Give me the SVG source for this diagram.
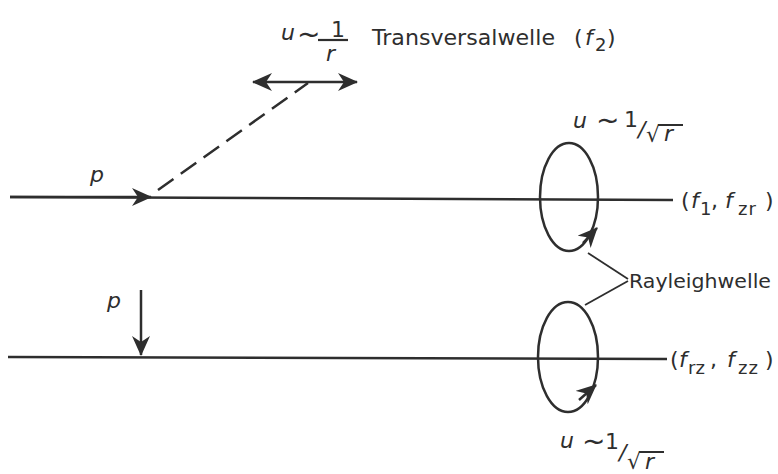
<svg xmlns="http://www.w3.org/2000/svg" width="778" height="474" viewBox="0 0 778 474">
<defs>
<style>
.ln{stroke:#2e2e2e;stroke-width:2.5;fill:none}
.thin{stroke:#2e2e2e;stroke-width:1.8;fill:none}
.t{font-family:"DejaVu Sans","Liberation Sans",sans-serif;fill:#2e2e2e;font-size:22px}
.i{font-style:italic}
.s{font-size:18px}
.r{font-size:20px}
</style>
<marker id="ahb" markerWidth="20" markerHeight="18" refX="19" refY="9" orient="auto" markerUnits="userSpaceOnUse" viewBox="0 0 20 18">
<path d="M0,0 L20,9 L0,18 L6,9 Z" fill="#2e2e2e"/>
</marker>
<marker id="ahs" markerWidth="20" markerHeight="18" refX="19" refY="9" orient="auto-start-reverse" markerUnits="userSpaceOnUse" viewBox="0 0 20 18">
<path d="M0,0 L20,9 L0,18 L6,9 Z" fill="#2e2e2e"/>
</marker>
</defs>
<rect width="778" height="474" fill="#fff"/>
<g id="connectors">
<line class="ln" x1="10" y1="197" x2="673" y2="200"/>
<line class="ln" x1="10" y1="197" x2="151" y2="197" marker-end="url(#ahb)"/>
<line class="ln" x1="158" y1="190" x2="308" y2="83" stroke-dasharray="19,9"/>
<line class="ln" x1="253" y1="82" x2="357" y2="82" marker-start="url(#ahs)" marker-end="url(#ahs)"/>
<line class="ln" x1="8" y1="357" x2="667" y2="359"/>
<line class="ln" x1="141" y1="290" x2="141" y2="355" marker-end="url(#ahb)"/>
<line class="thin" x1="588" y1="253" x2="628" y2="279"/>
<line class="thin" x1="585" y1="305" x2="628" y2="281"/>
</g>
<g id="top-ellipse">
<ellipse class="ln" cx="569" cy="197" rx="29" ry="54"/>
<path class="ln" d="M583,243 L597,228" marker-end="url(#ahb)"/>
</g>
<g id="bottom-ellipse">
<ellipse class="ln" cx="568" cy="357" rx="30" ry="55"/>
<path class="ln" d="M579,400 L596,385" marker-end="url(#ahb)"/>
</g>
<g id="labels">
<text class="t i" x="90" y="182">p</text>
<text class="t i" x="107" y="308">p</text>
<text class="t" y="40"><tspan class="i" x="281">u</tspan><tspan x="297" font-size="28" dy="4">~</tspan><tspan x="331" dy="-7">1</tspan><tspan class="i" x="326" dy="24">r</tspan></text>
<line x1="318" y1="40" x2="348" y2="40" stroke="#2e2e2e" stroke-width="2.2"/>
<text class="t" x="372" y="45" textLength="183" lengthAdjust="spacingAndGlyphs">Transversalwelle</text>
<text class="t" y="45"><tspan x="574">(</tspan><tspan class="i" x="585">f</tspan><tspan class="s" x="595" dy="6">2</tspan><tspan x="607" dy="-6">)</tspan></text>
<text class="t" y="128"><tspan class="i" x="573">u</tspan><tspan x="596" font-size="28" dy="2">~</tspan><tspan x="624" dy="-3">1</tspan><tspan class="i" x="638" dy="10">/</tspan><tspan x="646" dy="5">√</tspan><tspan class="i" x="664" dy="-1">r</tspan></text>
<line x1="658" y1="125" x2="683" y2="125" stroke="#2e2e2e" stroke-width="2"/>
<text class="t" y="208"><tspan x="681">(</tspan><tspan class="i" x="691">f</tspan><tspan class="s" x="700" dy="7">1</tspan><tspan x="711" dy="-7">,</tspan><tspan class="i" x="725">f</tspan><tspan class="s" x="738" dy="7" letter-spacing="1">zr</tspan><tspan x="765" dy="-7">)</tspan></text>
<text class="t r" x="629" y="288" textLength="142" lengthAdjust="spacingAndGlyphs">Rayleighwelle</text>
<text class="t" y="367"><tspan x="670">(</tspan><tspan class="i" x="679">f</tspan><tspan class="s" x="688" dy="7">rz</tspan><tspan x="710" dy="-7">,</tspan><tspan class="i" x="727">f</tspan><tspan class="s" x="738" dy="7" letter-spacing="1">zz</tspan><tspan x="765" dy="-7">)</tspan></text>
<text class="t" y="448"><tspan class="i" x="560">u</tspan><tspan x="582" font-size="28" dy="3">~</tspan><tspan x="605" dy="-2">1</tspan><tspan class="i" x="619" dy="11">/</tspan><tspan x="627" dy="9">√</tspan><tspan class="i" x="645" dy="0">r</tspan></text>
<line x1="639" y1="452" x2="664" y2="452" stroke="#2e2e2e" stroke-width="2"/>
</g>
</svg>
